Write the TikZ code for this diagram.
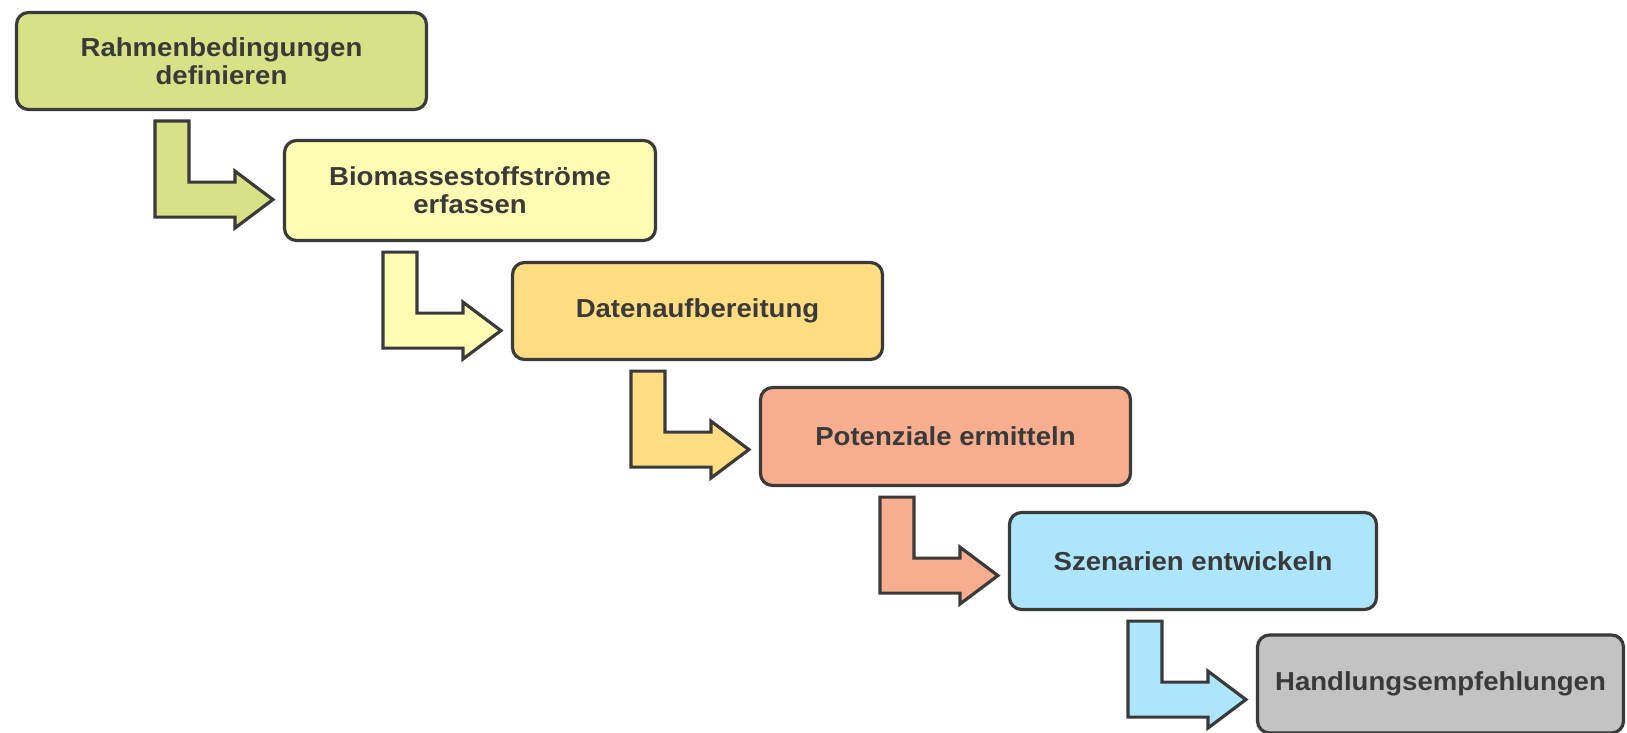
\documentclass[tikz,border=0pt]{standalone}
\usepackage{fontspec}
\setmainfont{Liberation Sans}[FakeStretch=1.06]
\usetikzlibrary{calc}
\definecolor{edgegray}{HTML}{3A3A3A}
\definecolor{cgreen}{HTML}{D6E285}
\definecolor{cyellow}{HTML}{FFFDB3}
\definecolor{corange}{HTML}{FFDD80}
\definecolor{csalmon}{HTML}{F7AE8F}
\definecolor{cblue}{HTML}{ADE5FC}
\definecolor{cgray}{HTML}{C3C3C3}
\tikzset{
  stepbox/.style={draw=edgegray, line width=1.6pt, rounded corners=6pt,
    rectangle, align=center, text=edgegray, inner sep=0pt,
    font=\fontsize{13}{14.2}\selectfont\bfseries},
  arrowline/.style={draw=edgegray, line width=1.6pt, line join=miter},
}
\newcommand{\steparrow}[3]{%
  \path (#2.west |- #1.south) coordinate (o#2);
  \draw[arrowline, fill=#3]
    ($(o#2)+(-128,10)$) -- ($(o#2)+(-94,10)$) -- ($(o#2)+(-94,71)$)
    -- ($(o#2)+(-48,71)$) -- ($(o#2)+(-48,60)$) -- ($(o#2)+(-10,88.5)$)
    -- ($(o#2)+(-48,117)$) -- ($(o#2)+(-48,106)$) -- ($(o#2)+(-128,106)$) -- cycle;
}
\begin{document}
\begin{tikzpicture}[x=0.5pt,y=-0.5pt]
\useasboundingbox (0,0) rectangle (1627,733);
\node[stepbox, fill=cgreen, minimum width=205pt, minimum height=48.5pt] (b1) at (221.5,61) {Rahmenbedingungen\\definieren};
\node[stepbox, fill=cyellow, minimum width=185.5pt, minimum height=50pt] (b2) at (470,190.5) {Biomassestoffströme\\erfassen};
\node[stepbox, fill=corange, minimum width=185pt, minimum height=48.5pt] (b3) at (697.5,311) {Datenaufbereitung};
\node[stepbox, fill=csalmon, minimum width=185pt, minimum height=49pt] (b4) at (945.5,436.5) {Potenziale ermitteln};
\node[stepbox, fill=cblue, minimum width=183.5pt, minimum height=48.5pt] (b5) at (1193,561) {Szenarien entwickeln};
\node[stepbox, fill=cgray, minimum width=183pt, minimum height=49pt] (b6) at (1440.5,684) {Handlungsempfehlungen};
\steparrow{b1}{b2}{cgreen}
\steparrow{b2}{b3}{cyellow}
\steparrow{b3}{b4}{corange}
\steparrow{b4}{b5}{csalmon}
\steparrow{b5}{b6}{cblue}
\end{tikzpicture}
\end{document}
